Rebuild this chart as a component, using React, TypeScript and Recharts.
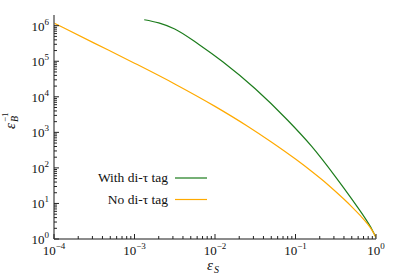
import React from 'react';
import { LineChart, Line, XAxis, YAxis } from 'recharts';

// signal efficiency eps_S vs background rejection 1/eps_B
const WITH_TAG_EPS_S = [0.00132, 0.002, 0.00316, 0.00631, 0.0126, 0.0316, 0.0794, 0.158, 0.316, 0.501, 0.794, 0.891, 1];
const WITH_TAG_INV_EPS_B = [1.47e6, 1.2e6, 8.09e5, 2.97e5, 9.5e4, 1.68e4, 2.22e3, 408, 55.1, 13.2, 2.89, 1.86, 1.1];

const NO_TAG_EPS_S = [1e-4, 3.16e-4, 1e-3, 3.16e-3, 0.01, 0.0251, 0.0501, 0.1, 0.158, 0.251, 0.398, 0.501, 0.631, 0.794, 0.891, 1];
const NO_TAG_INV_EPS_B = [1.19e6, 3.24e5, 8.83e4, 2.3e4, 5.38e3, 1.51e3, 536, 177, 80.4, 34.3, 13.3, 8.04, 4.68, 2.57, 1.78, 1.12];

const SERIES_NAMES = ['With di-τ tag', 'No di-τ tag'];
const COLORS = ['#1c7c1c', '#ffaa00'];

const X_MAJOR = [1e-4, 1e-3, 1e-2, 1e-1, 1];
const X_EXPONENTS = ['−4', '−3', '−2', '−1', '0'];
const Y_MAJOR = [1, 10, 100, 1e3, 1e4, 1e5, 1e6];
const Y_EXPONENTS = ['0', '1', '2', '3', '4', '5', '6'];

const FONT = 'Liberation Serif';
const TICK_COLOR = '#222';

// log minor ticks 2..9 inside each decade
const withMinors = (majors: number[], max: number) => {
  const out: number[] = [];
  majors.forEach((m) => {
    out.push(m);
    for (let k = 2; k <= 9; k++) if (m * k < max) out.push(m * k);
  });
  return out;
};
const X_TICKS = withMinors(X_MAJOR, 1);
const Y_TICKS = withMinors(Y_MAJOR, 2e6);

const withTag = WITH_TAG_EPS_S.map((x, i) => ({ x, y: WITH_TAG_INV_EPS_B[i] }));
const noTag = NO_TAG_EPS_S.map((x, i) => ({ x, y: NO_TAG_INV_EPS_B[i] }));

const textStyle = { fontFamily: FONT, fill: '#111' };

const BottomTick = ({ x, y, payload }: any) => {
  const i = X_MAJOR.indexOf(payload.value);
  return (
    <g>
      <line x1={x} y1={y} x2={x} y2={y - (i >= 0 ? 5 : 3)} stroke={TICK_COLOR} />
      {i >= 0 && (
        <text x={x} y={y + 16} textAnchor="middle" style={{ ...textStyle, fontSize: 13 }}>
          10<tspan dy={-6} style={{ fontSize: 9 }}>{X_EXPONENTS[i]}</tspan>
        </text>
      )}
    </g>
  );
};

const TopTick = ({ x, y, payload }: any) => {
  const major = X_MAJOR.indexOf(payload.value) >= 0;
  return <line x1={x} y1={y} x2={x} y2={y + (major ? 5 : 3)} stroke={TICK_COLOR} />;
};

const LeftTick = ({ x, y, payload }: any) => {
  const i = Y_MAJOR.indexOf(payload.value);
  return (
    <g>
      <line x1={x} y1={y} x2={x + (i >= 0 ? 5 : 3)} y2={y} stroke={TICK_COLOR} />
      {i >= 0 && (
        <text x={x - 5} y={y + 5} textAnchor="end" style={{ ...textStyle, fontSize: 13 }}>
          10<tspan dy={-6} style={{ fontSize: 9 }}>{Y_EXPONENTS[i]}</tspan>
        </text>
      )}
    </g>
  );
};

const RightTick = ({ x, y, payload }: any) => {
  const major = Y_MAJOR.indexOf(payload.value) >= 0;
  return <line x1={x} y1={y} x2={x - (major ? 5 : 3)} y2={y} stroke={TICK_COLOR} />;
};

const border = { stroke: '#666', strokeWidth: 1.5 };

export default function App() {
  return (
    <div style={{ position: 'absolute', left: 0, top: 0, width: 399, height: 279, background: '#fff' }}>
      <LineChart width={399} height={279} margin={{ top: 15, right: 23, bottom: 0, left: 0 }}>
        <XAxis
          dataKey="x"
          type="number"
          scale="log"
          domain={[1e-4, 1]}
          allowDataOverflow
          ticks={X_TICKS}
          interval={0}
          height={40}
          tickSize={0}
          tickMargin={0}
          tickLine={false}
          axisLine={border}
          tick={BottomTick}
        />
        <XAxis
          xAxisId="top"
          orientation="top"
          dataKey="x"
          type="number"
          scale="log"
          domain={[1e-4, 1]}
          allowDataOverflow
          ticks={X_TICKS}
          interval={0}
          height={0}
          tickSize={0}
          tickMargin={0}
          tickLine={false}
          axisLine={border}
          tick={TopTick}
        />
        <YAxis
          type="number"
          scale="log"
          domain={[1, 2e6]}
          allowDataOverflow
          ticks={Y_TICKS}
          interval={0}
          width={54}
          tickSize={0}
          tickMargin={0}
          tickLine={false}
          axisLine={border}
          tick={LeftTick}
        />
        <YAxis
          yAxisId="right"
          orientation="right"
          type="number"
          scale="log"
          domain={[1, 2e6]}
          allowDataOverflow
          ticks={Y_TICKS}
          interval={0}
          width={0}
          tickSize={0}
          tickMargin={0}
          tickLine={false}
          axisLine={border}
          tick={RightTick}
        />
        <Line
          data={withTag}
          dataKey="y"
          name={SERIES_NAMES[0]}
          type="monotone"
          stroke={COLORS[0]}
          strokeWidth={1.2}
          dot={false}
          isAnimationActive={false}
        />
        <Line
          data={noTag}
          dataKey="y"
          name={SERIES_NAMES[1]}
          type="monotone"
          stroke={COLORS[1]}
          strokeWidth={1.2}
          dot={false}
          isAnimationActive={false}
        />
      </LineChart>
      <svg
        width={399}
        height={279}
        style={{ position: 'absolute', left: 0, top: 0, pointerEvents: 'none' }}
      >
        {SERIES_NAMES.map((name, i) => (
          <g key={name}>
            <text x={168} y={182 + i * 21.5} textAnchor="end" style={{ ...textStyle, fontSize: 13.5 }}>
              {name}
            </text>
            <line x1={175} x2={207} y1={178 + i * 21.5} y2={178 + i * 21.5} stroke={COLORS[i]} strokeWidth={1.2} />
          </g>
        ))}
        <g transform="translate(15,129) rotate(-90)">
          <text x={0} y={0} style={{ ...textStyle, fontSize: 15, fontStyle: 'italic' }}>ε</text>
          <text x={7} y={3} style={{ ...textStyle, fontSize: 10, fontStyle: 'italic' }}>B</text>
          <text x={7} y={-7} style={{ ...textStyle, fontSize: 9 }}>−1</text>
        </g>
        <text x={207} y={270} style={{ ...textStyle, fontSize: 15, fontStyle: 'italic' }}>ε</text>
        <text x={214} y={273} style={{ ...textStyle, fontSize: 10, fontStyle: 'italic' }}>S</text>
      </svg>
    </div>
  );
}
